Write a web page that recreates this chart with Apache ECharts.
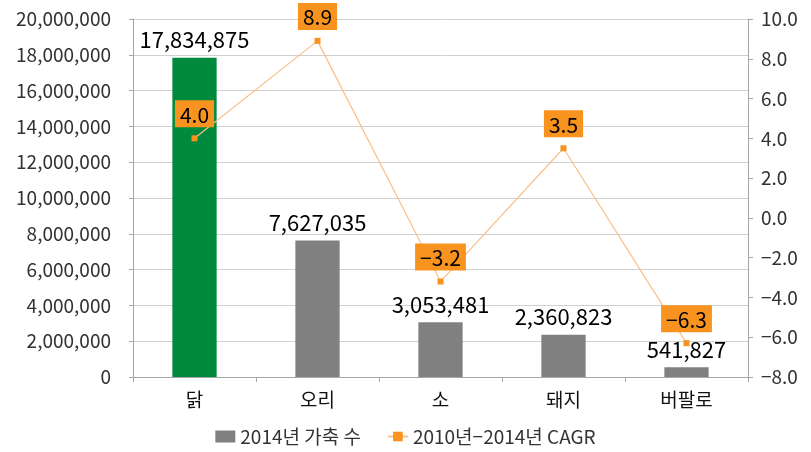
<!DOCTYPE html>
<html>
<head>
<meta charset="utf-8">
<script src="https://cdn.jsdelivr.net/npm/echarts@6/dist/echarts.min.js"></script>
<style>
  html, body { margin: 0; padding: 0; background: #fff; }
  #chart { width: 811px; height: 452px; }
</style>
</head>
<body>
<div id="chart"></div>
<script>
const categories = ['닭', '오리', '소', '돼지', '버팔로'];
const livestock2014 = [17834875, 7627035, 3053481, 2360823, 541827];
const cagr = [4.0, 8.9, -3.2, 3.5, -6.3];
const barColors = ['#008a3e', '#808080', '#808080', '#808080', '#808080'];

const font = '"Noto Sans CJK KR", "Noto Sans", sans-serif';
const minus = v => (v < 0 ? '\u2212' + Math.abs(v).toFixed(1) : v.toFixed(1));

const chart = echarts.init(document.getElementById('chart'));
chart.setOption({
  animation: false,
  textStyle: { fontFamily: font },
  grid: { left: 133, right: 63, top: 19, bottom: 75 },
  legend: {
    bottom: 1,
    left: 'center',
    itemGap: 26,
    itemWidth: 20,
    itemHeight: 12,
    textStyle: { fontSize: 19, color: '#333', fontFamily: font },
    data: [
      { name: '2014년 가축 수', icon: 'rect', itemStyle: { color: '#808080' } },
      { name: '2010년\u22122014년 CAGR' }
    ]
  },
  xAxis: {
    type: 'category',
    data: categories,
    axisLine: { lineStyle: { color: '#a6a6a6' } },
    axisTick: { show: true, length: 5, lineStyle: { color: '#a6a6a6' } },
    axisLabel: { fontSize: 19, color: '#111', margin: 13, fontFamily: font }
  },
  yAxis: [
    {
      type: 'value',
      min: 0, max: 20000000, interval: 2000000,
      axisLine: { show: true, lineStyle: { color: '#a6a6a6' } },
      axisTick: { show: true, length: 4, lineStyle: { color: '#a6a6a6' } },
      splitLine: { lineStyle: { color: '#d0d0d0' } },
      axisLabel: {
        fontSize: 19, color: '#333', margin: 22, fontFamily: font,
        formatter: v => v.toLocaleString('en-US')
      }
    },
    {
      type: 'value',
      min: -8, max: 10, interval: 2,
      position: 'right',
      axisLine: { show: true, lineStyle: { color: '#a6a6a6' } },
      axisTick: { show: true, length: 5, lineStyle: { color: '#a6a6a6' } },
      splitLine: { show: false },
      axisLabel: { fontSize: 19, color: '#333', margin: 13, fontFamily: font, formatter: minus }
    }
  ],
  series: [
    {
      name: '2014년 가축 수',
      type: 'bar',
      barWidth: '36%',
      data: livestock2014.map((v, i) => ({ value: v, itemStyle: { color: barColors[i] } })),
      itemStyle: { color: '#808080' },
      label: {
        show: true,
        position: 'top',
        distance: 7,
        fontSize: 22,
        color: '#000',
        fontFamily: font,
        formatter: p => p.value.toLocaleString('en-US')
      }
    },
    {
      name: '2010년\u22122014년 CAGR',
      type: 'line',
      yAxisIndex: 1,
      data: cagr,
      symbol: 'rect',
      symbolSize: 6,
      itemStyle: { color: '#f7931e' },
      lineStyle: { color: '#f8c08a', width: 1.2 },
      label: {
        show: true,
        position: 'top',
        distance: 8,
        fontSize: 21,
        color: '#000',
        fontFamily: font,
        backgroundColor: '#f7931e',
        padding: [4, 5, 2, 5],
        formatter: p => minus(p.value)
      },
      z: 5
    }
  ]
});
</script>
</body>
</html>
